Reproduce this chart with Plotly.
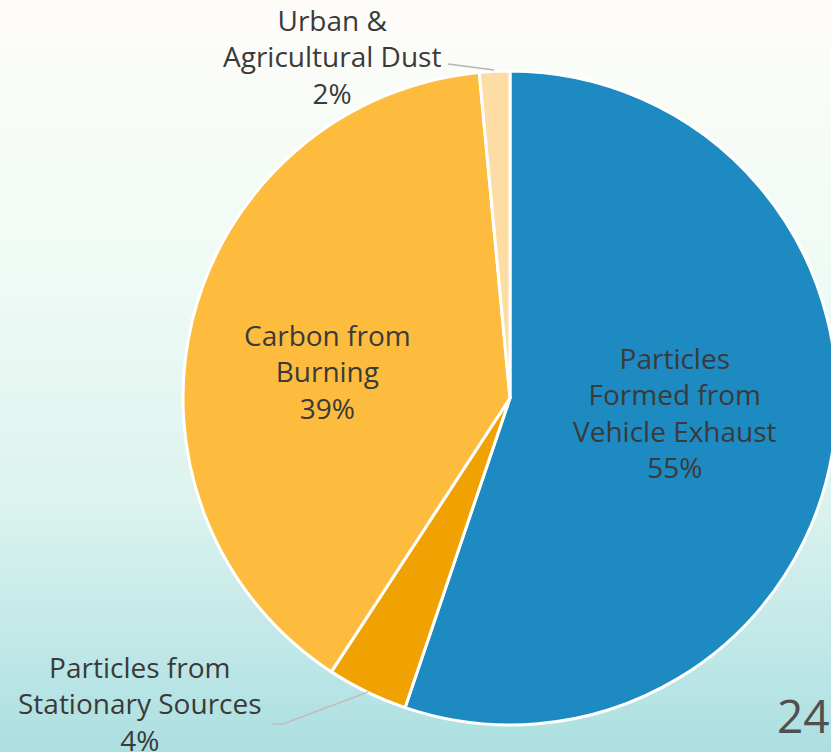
import plotly.graph_objects as go

# ---- data ----
categories = ["Particles<br>Formed from<br>Vehicle Exhaust",
              "Particles from<br>Stationary Sources",
              "Carbon from<br>Burning",
              "Urban &<br>Agricultural Dust"]
values = [55.2, 4.0, 39.3, 1.5]
pct_labels = ["55%", "4%", "39%", "2%"]
colors = ["#1E8AC2", "#F0A202", "#FDBC3E", "#FEDDA5"]

W, H = 845, 752

def px(x):
    return x / W

def py(y):
    return 1 - y / H

fig = go.Figure()

# pie centered at (510, 398), radius 327
cx, cy, r = 510, 398, 327
fig.add_trace(go.Pie(
    labels=categories, values=values, sort=False, direction="clockwise",
    rotation=0, marker=dict(colors=colors, line=dict(color="white", width=3)),
    textinfo="none", hoverinfo="label+percent", showlegend=False,
    domain=dict(x=[px(cx - r), px(cx + r)], y=[py(cy + r), py(cy - r)]),
))

# background gradient bands
stops = [(0, (254, 252, 248)), (250, (241, 251, 246)), (500, (220, 243, 238)),
         (752, (172, 223, 225))]

def col_at(y):
    for (y0, c0), (y1, c1) in zip(stops[:-1], stops[1:]):
        if y0 <= y <= y1:
            t = (y - y0) / (y1 - y0)
            return "rgb(%d,%d,%d)" % tuple(round(a + (b - a) * t) for a, b in zip(c0, c1))
    return "rgb(%d,%d,%d)" % stops[-1][1]

shapes = []
step = 8
for y in range(0, H, step):
    shapes.append(dict(type="rect", xref="paper", yref="paper", x0=0, x1=1,
                       y0=py(y + step + 0.5), y1=py(y), fillcolor=col_at(y + step / 2),
                       line=dict(width=0), layer="below"))

# leader lines
shapes.append(dict(type="path", xref="paper", yref="paper",
                   path=f"M {px(448)} {py(64)} L {px(494)} {py(70)}",
                   line=dict(color="#B4B4B4", width=1.5)))
shapes.append(dict(type="path", xref="paper", yref="paper",
                   path=f"M {px(272)} {py(724)} L {px(283)} {py(724)} L {px(368)} {py(692)}",
                   line=dict(color="#C4BCBC", width=1.5)))

font = dict(family="Open Sans, Arial, sans-serif", size=28, color="#3A3A3A")
label_pos = [(675, 412), (140, 703), (327, 371), (332, 56)]
annotations = []
for (x, y), lab, pct in zip(label_pos, categories, pct_labels):
    annotations.append(dict(x=px(x), y=py(y), xref="paper", yref="paper",
                            text=f"{lab}<br>{pct}", showarrow=False,
                            xanchor="center", yanchor="middle", font=font))
annotations.append(dict(x=px(803), y=py(715), xref="paper", yref="paper", text="24",
                        showarrow=False, xanchor="center", yanchor="middle",
                        font=dict(family="Open Sans, Arial, sans-serif", size=46, color="#505050")))

fig.update_layout(width=W, height=H, margin=dict(l=0, r=0, t=0, b=0),
                  paper_bgcolor="#EAF7F2", plot_bgcolor="rgba(0,0,0,0)",
                  shapes=shapes, annotations=annotations)

fig.write_html("out.html", config={"displayModeBar": False},
               post_script="document.body.style.margin='0';document.body.style.overflow='hidden';")
